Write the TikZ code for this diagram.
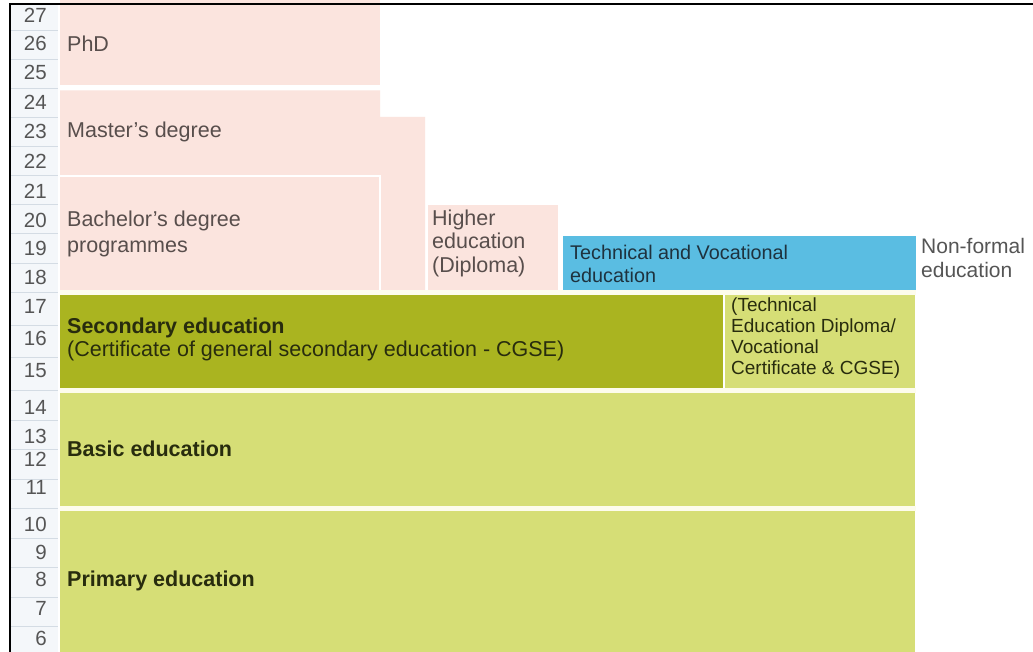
\documentclass[tikz,border=0pt]{standalone}
\usepackage{fontspec}
\setmainfont{Liberation Sans}
\definecolor{pinkbg}{RGB}{251,228,222}
\definecolor{olive}{RGB}{170,180,32}
\definecolor{lgreen}{RGB}{214,222,118}
\definecolor{skyblue}{RGB}{90,189,226}
\definecolor{agebg}{RGB}{244,247,250}
\definecolor{sepcol}{RGB}{212,220,228}
\definecolor{numcol}{RGB}{85,85,85}
\definecolor{pinktext}{RGB}{88,78,76}
\definecolor{greentext}{RGB}{40,44,14}
\definecolor{bluetext}{RGB}{30,50,62}
\definecolor{gaptint}{RGB}{253,252,236}
\tikzset{
  agenum/.style={anchor=east, inner sep=0pt, text=numcol, font=\fontsize{20.5}{22}\selectfont},
  block/.style={anchor=north west, inner sep=0pt, outer sep=0pt, draw=none},
  lbl/.style={anchor=west, inner sep=0pt, align=left, font=\fontsize{21.5}{26}\selectfont},
  blbl/.style={anchor=west, inner sep=0pt, align=left, font=\fontsize{21.5}{26}\selectfont\bfseries, text=greentext},
}
\begin{document}
\begin{tikzpicture}[x=1pt,y=-1pt]
\useasboundingbox (0,0) rectangle (1033,652);
\fill[white] (0,0) rectangle (1033,652);
% age column
\fill[agebg] (10,5) rectangle (58,652);
\foreach \yy in {30,59,88,117,146,175,204.4,233.7,263.1,292.5,325.2,357.8,390.5,420,449.5,479,508.5,538,567.5,597,626.5}
  \draw[sepcol, line width=0.8pt] (10,\yy) -- (58,\yy);
\foreach \a/\yc in {27/15,26/43.5,25/72.5,24/102,23/131.5,22/161,21/191,20/220.5,19/248,18/277,17/306,16/338,15/371,14/407,13/436,12/459,11/487,10/524,9/552,8/579,7/608,6/638}
  \node[agenum] (age\a) at (47,\yc) {\a};
% gap tint strips
\fill[gaptint] (60,290) rectangle (916,295);
\fill[gaptint] (60,388) rectangle (916,393);
\fill[gaptint] (60,506) rectangle (916,511);
% PhD
\node[block, fill=pinkbg, minimum width=320pt, minimum height=85.5pt] (phd) at (60,0) {};
\node[lbl, text=pinktext] (phdl) at (67,43.5) {PhD};
% Master's (L-shape)
\fill[pinkbg] (60,90.5) -- (380,90.5) -- (380,117) -- (425,117) -- (425,290) -- (60,290) -- cycle;
\node[lbl, text=pinktext] (masl) at (67,131.5) {Master's degree};
% Bachelor's
\node[block, fill=pinkbg, minimum width=320pt, minimum height=115pt] (bach) at (60,175) {};
\draw[white, line width=2.5pt] (60,176.2) -- (380,176.2) -- (380,290);
\node[lbl, text=pinktext] (bachl) at (67,234) {Bachelor's degree\\programmes};
% Higher education (Diploma)
\node[block, fill=pinkbg, minimum width=130pt, minimum height=85pt] (high) at (428,205) {};
\node[lbl, text=pinktext, font=\fontsize{21.5}{23.5}\selectfont] (highl) at (432,243) {Higher\\education\\(Diploma)};
% Technical and Vocational
\node[block, fill=skyblue, minimum width=353pt, minimum height=54pt] (tvet) at (563,236) {};
\node[lbl, text=bluetext, font=\fontsize{19.8}{22.5}\selectfont] (tvetl) at (570,264) {Technical and Vocational\\education};
% Non-formal
\node[lbl, text=numcol, font=\fontsize{21}{23.5}\selectfont] (nonf) at (921,258) {Non-formal\\education};
% Secondary
\node[block, fill=olive, minimum width=662.5pt, minimum height=93pt] (sec) at (60,295) {};
\node[blbl] (secl) at (67,328) {Secondary education};
\node[lbl, text=greentext] (secl2) at (67,351) {(Certificate of general secondary education - CGSE)};
% TVET diploma
\node[block, fill=lgreen, minimum width=190pt, minimum height=93pt] (tdip) at (725,295) {};
\node[lbl, text=greentext, font=\fontsize{19}{21}\selectfont] (tdipl) at (731,338) {(Technical\\Education Diploma/\\Vocational\\Certificate \& CGSE)};
% Basic
\node[block, fill=lgreen, minimum width=855pt, minimum height=113pt] (basic) at (60,393) {};
\node[blbl] (basicl) at (67,449) {Basic education};
% Primary
\node[block, fill=lgreen, minimum width=855pt, minimum height=141pt] (prim) at (60,511) {};
\node[blbl] (priml) at (67,581) {Primary education};
% frame
\draw[black, line width=2pt] (9.5,652) -- (9.5,4.5) -- (1033,4.5);
\end{tikzpicture}
\end{document}
